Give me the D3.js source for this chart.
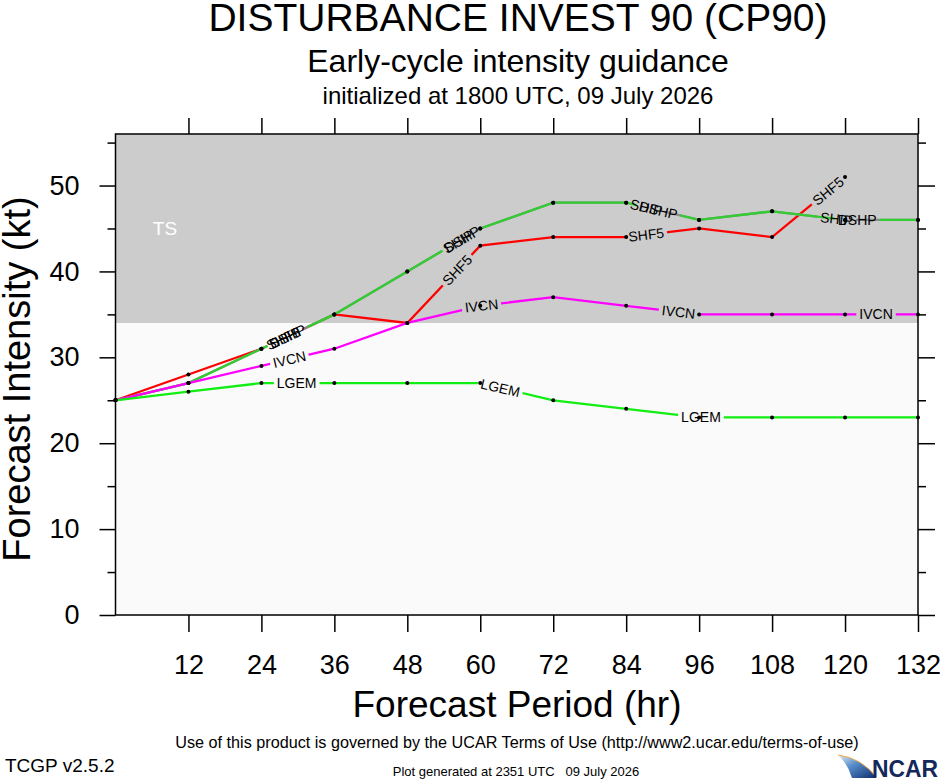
<!DOCTYPE html>
<html>
<head>
<meta charset="utf-8">
<script src="https://cdn.jsdelivr.net/npm/d3@7"></script>
<style>
  body { margin: 0; background: #fff; }
  text { font-family: "Liberation Sans", Arial, Helvetica, sans-serif; }
</style>
</head>
<body>
<svg id="chart" width="940" height="780"></svg>
<script>
// forecast hours and model intensities (kt)
var hours = [0, 12, 24, 36, 48, 60, 72, 84, 96, 108, 120, 132];
var shf5 = [25, 28, 31, 35, 34, 43, 44, 44, 45, 44, 51];
var ship = [25, 27, 31, 35, 40, 45, 48, 48, 46, 47, 46, 46];
var dshp = [25, 27, 31, 35, 40, 45, 48, 48, 46, 47, 46, 46];
var ivcn = [25, 27, 29, 31, 34, 36, 37, 36, 35, 35, 35, 35];
var lgem = [25, 26, 27, 27, 27, 27, 25, 24, 23, 23, 23, 23];

// where the model name sits on each line (forecast hour)
var shf5Labels = [27.6, 56.2, 87.3, 117.2];
var shipLabels = [27.9, 56.4, 87.3, 118.6];
var dshpLabels = [28.3, 57.0, 89.3, 122.0];
var ivcnLabels = [28.6, 60.2, 92.6, 125.1];
var lgemLabels = [29.8, 63.3, 96.3];

var xTicks = [12, 24, 36, 48, 60, 72, 84, 96, 108, 120, 132];
var yTicks = [0, 10, 20, 30, 40, 50];
var yMinor = [5, 15, 25, 35, 45, 55];
var tsFloor = 34;

var series = [
  { name: 'SHF5', values: shf5, labels: shf5Labels, color: '#ff0000' },
  { name: 'SHIP', values: ship, labels: shipLabels, color: '#8a8a8a' },
  { name: 'DSHP', values: dshp, labels: dshpLabels, color: '#33cc33' },
  { name: 'IVCN', values: ivcn, labels: ivcnLabels, color: '#ff00ff' },
  { name: 'LGEM', values: lgem, labels: lgemLabels, color: '#11ee11' }
];

var svg = d3.select('#chart');
var plotL = 115.5, plotR = 918, plotT = 134, plotB = 615;

var x = d3.scaleLinear().domain([0, 132]).range([plotL, plotR]);
var y = d3.scaleLinear().domain([0, 56]).range([plotB, plotT]);

// titles
svg.append('text').attr('x', 518).attr('y', 31).attr('text-anchor', 'middle')
  .style('font-size', '39px').text('DISTURBANCE INVEST 90 (CP90)');
svg.append('text').attr('x', 518).attr('y', 72).attr('text-anchor', 'middle')
  .style('font-size', '32px').text('Early-cycle intensity guidance');
svg.append('text').attr('x', 518).attr('y', 104).attr('text-anchor', 'middle')
  .style('font-size', '24px').text('initialized at 1800 UTC, 09 July 2026');

// background bands
svg.append('rect').attr('x', plotL).attr('y', y(tsFloor))
  .attr('width', plotR - plotL).attr('height', plotB - y(tsFloor)).attr('fill', '#fafafa');
svg.append('rect').attr('x', plotL).attr('y', plotT)
  .attr('width', plotR - plotL).attr('height', y(tsFloor) - plotT).attr('fill', '#cccccc');
svg.append('text').attr('x', 165).attr('y', 235).attr('text-anchor', 'middle')
  .attr('fill', '#fff').style('font-size', '19px').text('TS');

function labelSpot(values, h) {
  var i = Math.min(Math.floor(h / 12), values.length - 2);
  var t = (h - hours[i]) / 12;
  var v = values[i] + (values[i + 1] - values[i]) * t;
  var ang = Math.atan2(y(values[i + 1]) - y(values[i]), x(hours[i + 1]) - x(hours[i])) * 180 / Math.PI;
  return { x: x(h), y: y(v), a: ang };
}

var defs = svg.append('defs');
var line = d3.line()
  .x(function(d, i) { return x(hours[i]); })
  .y(function(d) { return y(d); });

var lineLayer = svg.append('g');
var dotLayer = svg.append('g');
var labelLayer = svg.append('g');

series.forEach(function(s) {
  var mask = defs.append('mask').attr('id', 'gap-' + s.name)
    .attr('maskUnits', 'userSpaceOnUse')
    .attr('x', 0).attr('y', 0).attr('width', 940).attr('height', 780);
  mask.append('rect').attr('width', 940).attr('height', 780).attr('fill', '#fff');

  lineLayer.append('path')
    .datum(s.values)
    .attr('d', line)
    .attr('fill', 'none')
    .attr('stroke', s.color)
    .attr('stroke-width', 2.3)
    .attr('mask', 'url(#gap-' + s.name + ')');

  dotLayer.selectAll(null).data(s.values).enter()
    .append('circle')
    .attr('cx', function(d, i) { return x(hours[i]); })
    .attr('cy', function(d) { return y(d); })
    .attr('r', 2)
    .attr('fill', '#000');

  s.labels.forEach(function(h) {
    var p = labelSpot(s.values, h);
    var g = labelLayer.append('g')
      .attr('transform', 'translate(' + p.x + ',' + p.y + ') rotate(' + p.a + ')');
    var t = g.append('text').attr('text-anchor', 'middle').attr('dy', '0.36em')
      .style('font-size', '14px').attr('fill', '#000').text(s.name);
    var w = t.node().getComputedTextLength() + 6;
    mask.append('rect')
      .attr('x', -w / 2).attr('y', -7).attr('width', w).attr('height', 14)
      .attr('fill', '#000')
      .attr('transform', 'translate(' + p.x + ',' + p.y + ') rotate(' + p.a + ')');
  });
});

// frame
svg.append('rect').attr('x', plotL).attr('y', plotT)
  .attr('width', plotR - plotL).attr('height', plotB - plotT)
  .attr('fill', 'none').attr('stroke', '#000').attr('stroke-width', 1.5);

function styleAxis(g) {
  g.select('.domain').remove();
  g.selectAll('.tick line').attr('stroke', '#000').attr('stroke-width', 1.5);
  g.selectAll('.tick text').attr('fill', '#000')
    .style('font-family', '"Liberation Sans", Arial, Helvetica, sans-serif')
    .style('font-size', '27px');
}

svg.append('g').attr('transform', 'translate(0,' + plotB + ')')
  .call(d3.axisBottom(x).tickValues(xTicks).tickSize(17).tickPadding(23)).call(styleAxis);
svg.append('g').attr('transform', 'translate(0,' + plotT + ')')
  .call(d3.axisTop(x).tickValues(xTicks).tickSize(16).tickFormat('')).call(styleAxis);
svg.append('g').attr('transform', 'translate(' + plotL + ',0)')
  .call(d3.axisLeft(y).tickValues(yTicks).tickSize(16).tickPadding(20)).call(styleAxis);
svg.append('g').attr('transform', 'translate(' + plotL + ',0)')
  .call(d3.axisLeft(y).tickValues(yMinor).tickSize(8).tickFormat('')).call(styleAxis);
svg.append('g').attr('transform', 'translate(' + plotR + ',0)')
  .call(d3.axisRight(y).tickValues(yTicks).tickSize(17).tickFormat('')).call(styleAxis);
svg.append('g').attr('transform', 'translate(' + plotR + ',0)')
  .call(d3.axisRight(y).tickValues(yMinor).tickSize(8).tickFormat('')).call(styleAxis);

// axis titles
svg.append('text').attr('x', 517).attr('y', 717).attr('text-anchor', 'middle')
  .style('font-size', '37px').text('Forecast Period (hr)');
svg.append('text').attr('transform', 'translate(30,379) rotate(-90)')
  .attr('text-anchor', 'middle').style('font-size', '38px').text('Forecast Intensity (kt)');

// footer
svg.append('text').attr('x', 517).attr('y', 748).attr('text-anchor', 'middle')
  .style('font-size', '16.2px')
  .text('Use of this product is governed by the UCAR Terms of Use (http://www2.ucar.edu/terms-of-use)');
svg.append('text').attr('x', 5).attr('y', 772).style('font-size', '19px').text('TCGP v2.5.2');
svg.append('text').attr('x', 516).attr('y', 776).attr('text-anchor', 'middle')
  .style('font-size', '13px').style('white-space', 'pre')
  .text('Plot generated at 2351 UTC   09 July 2026');

// NCAR mark
var grad = defs.append('linearGradient').attr('id', 'swoosh')
  .attr('x1', '0').attr('y1', '0').attr('x2', '1').attr('y2', '1');
grad.append('stop').attr('offset', '0').attr('stop-color', '#e4eef9');
grad.append('stop').attr('offset', '0.4').attr('stop-color', '#5a8fcc');
grad.append('stop').attr('offset', '1').attr('stop-color', '#0b2a6b');
svg.append('path')
  .attr('d', 'M838,755 Q862,758 877,778 L852,778 Q848,764 838,755 Z')
  .attr('fill', 'url(#swoosh)');
svg.append('path')
  .attr('d', 'M838,755 Q862,758 877,778')
  .attr('fill', 'none').attr('stroke', '#f2a84a').attr('stroke-width', 1);
svg.append('text').attr('x', 872).attr('y', 777)
  .attr('textLength', 66).attr('lengthAdjust', 'spacingAndGlyphs')
  .attr('fill', '#14285a').style('font-size', '24px').style('font-weight', 'bold')
  .text('NCAR');
</script>
</body>
</html>
